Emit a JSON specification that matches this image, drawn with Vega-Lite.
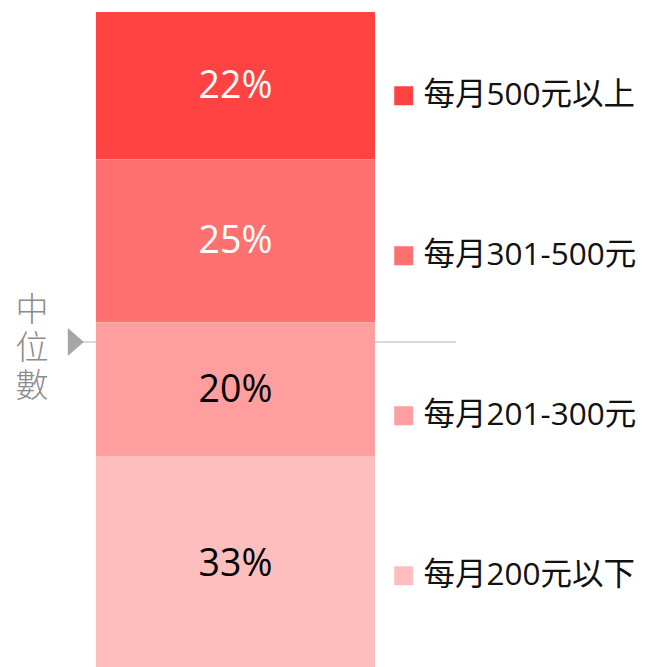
{
  "$schema": "https://vega.github.io/schema/vega-lite/v6.json",
  "width": 648,
  "height": 655,
  "autosize": {"type": "none"},
  "padding": {"top": 12, "left": 0, "right": 0, "bottom": 0},
  "background": "white",
  "config": {"view": {"stroke": null}},
  "datasets": {
    "shares": [
      {"cat": "每月500元以上", "pct": 22.3, "label": "22%", "ord": 4},
      {"cat": "每月301-500元", "pct": 24.7, "label": "25%", "ord": 3},
      {"cat": "每月201-300元", "pct": 20.4, "label": "20%", "ord": 2},
      {"cat": "每月200元以下", "pct": 32.6, "label": "33%", "ord": 1}
    ],
    "median": [{"name": "中位數", "value": 50}]
  },
  "layer": [
    {
      "data": {"name": "median"},
      "mark": {"type": "rule", "color": "#d9d9d9", "strokeWidth": 2},
      "encoding": {
        "y": {"field": "value", "type": "quantitative", "scale": {"domain": [0.76, 100], "zero": false, "nice": false}, "axis": null},
        "x": {"datum": 12.0, "type": "quantitative", "scale": {"domain": [0, 100], "nice": false, "zero": false}, "axis": null},
        "x2": {"datum": 70.4}
      }
    },
    {
      "data": {"name": "shares"},
      "transform": [{"stack": "pct", "groupby": [], "sort": [{"field": "ord", "order": "ascending"}], "as": ["y0", "y1"]}],
      "mark": {"type": "bar", "clip": true},
      "encoding": {
        "y": {"field": "y0", "type": "quantitative"},
        "y2": {"field": "y1"},
        "x": {"datum": 14.81, "type": "quantitative"},
        "x2": {"datum": 57.87},
        "color": {
          "field": "cat",
          "type": "nominal",
          "scale": {
            "domain": ["每月500元以上", "每月301-500元", "每月201-300元", "每月200元以下"],
            "range": ["#FF4343", "#FF7171", "#FF9E9E", "#FFBEBE"]
          },
          "legend": {
            "title": null,
            "orient": "none",
            "legendX": 388,
            "legendY": 68,
            "padding": 0,
            "symbolType": "square",
            "symbolSize": 361,
            "symbolStrokeWidth": 0,
            "symbolOpacity": 1,
            "labelFont": "Open Sans, Noto Sans CJK TC",
            "labelFontSize": 31.5,
            "labelColor": "#111111",
            "labelOffset": 4,
            "labelLimit": 400,
            "rowPadding": 127
          }
        }
      }
    },
    {
      "data": {"name": "shares"},
      "transform": [
        {"stack": "pct", "groupby": [], "sort": [{"field": "ord", "order": "ascending"}], "as": ["y0", "y1"]},
        {"calculate": "(datum.y0 + datum.y1) / 2", "as": "mid"}
      ],
      "mark": {"type": "text", "font": "Open Sans", "fontSize": 37.5, "baseline": "middle", "align": "center", "dy": 1},
      "encoding": {
        "y": {"field": "mid", "type": "quantitative"},
        "x": {"datum": 36.34, "type": "quantitative"},
        "text": {"field": "label"},
        "color": {
          "condition": {"test": "datum.ord >= 3", "value": "#ffffff"},
          "value": "#000000"
        }
      }
    },
    {
      "data": {"name": "median"},
      "mark": {"type": "point", "shape": "M-0.57,-1L0.57,0L-0.57,1Z", "filled": true, "color": "#a6a6a6", "opacity": 1, "size": 784},
      "encoding": {
        "y": {"field": "value", "type": "quantitative"},
        "x": {"datum": 11.7, "type": "quantitative"}
      }
    },
    {
      "data": {"name": "median"},
      "transform": [{"calculate": "split(datum.name, '')", "as": "lines"}],
      "mark": {"type": "text", "font": "Noto Sans CJK TC", "fontWeight": 300, "fontSize": 33, "lineHeight": 38, "color": "#8c8c8c", "baseline": "middle", "align": "center", "dy": -31},
      "encoding": {
        "y": {"field": "value", "type": "quantitative"},
        "x": {"datum": 4.94, "type": "quantitative"},
        "text": {"field": "lines"}
      }
    }
  ]
}
